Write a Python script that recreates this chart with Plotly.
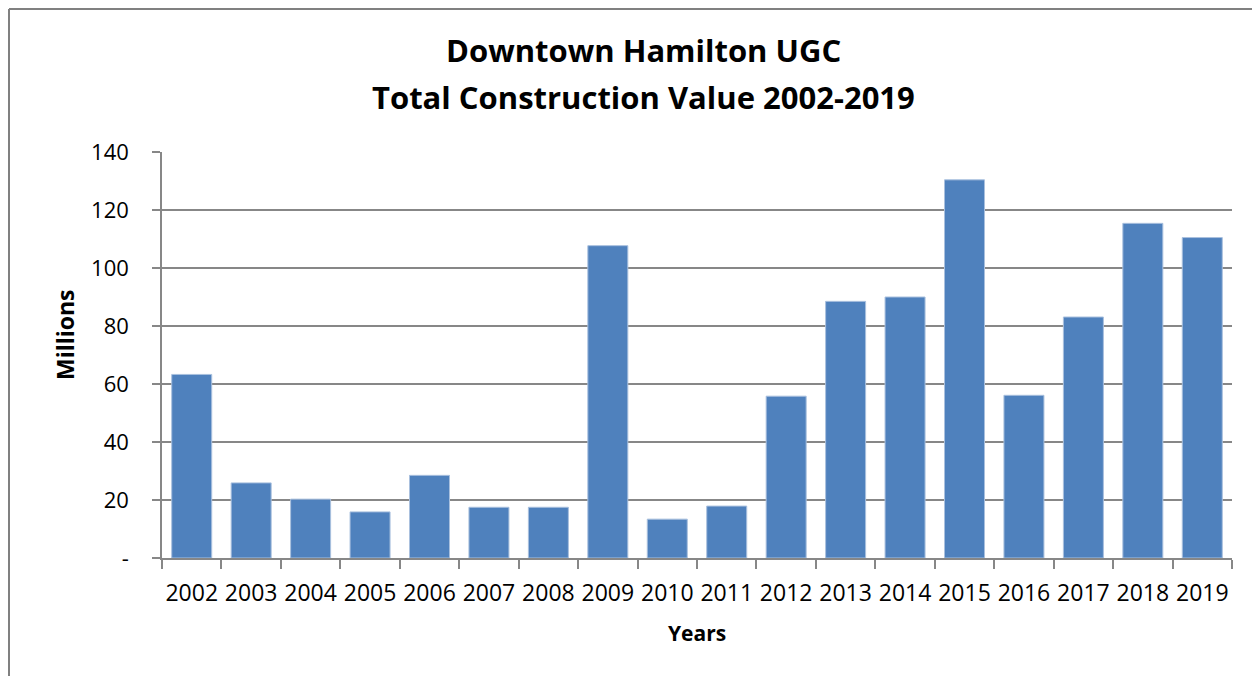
import plotly.graph_objects as go

years = [str(y) for y in range(2002, 2020)]
values = [63.3, 25.9, 20.3, 15.9, 28.5, 17.5, 17.5, 107.7, 13.4, 17.9,
          55.8, 88.5, 90.0, 130.4, 56.1, 83.1, 115.4, 110.5]
y_tickvals = [0, 20, 40, 60, 80, 100, 120, 140]
y_ticktext = ["-", "20", "40", "60", "80", "100", "120", "140"]

title_line1 = "Downtown Hamilton UGC"
title_line2 = "Total Construction Value 2002-2019"
x_title = "Years"
y_title = "Millions"

OFF = 8  # page body margin
W, H = 1260 - OFF, 676 - OFF
# plot area in page pixels: x 162..1232, y 152..558
L, T = 162 - OFF, 152 - OFF
R = W - (1232 - OFF)
B = H - (558 - OFF)
pw, ph = W - L - R, H - T - B

def px_x(p):
    return (p - OFF - L) / pw

def px_y(p):
    return (H - B - (p - OFF)) / ph

FONT = "Open Sans"
GRID = "#878787"

fig = go.Figure(go.Bar(
    x=years, y=values,
    marker=dict(color="#4F81BD", line=dict(color="#A9C0DE", width=1)),
))

fig.update_layout(
    width=W, height=H,
    margin=dict(l=L, r=R, t=T, b=B, autoexpand=False),
    plot_bgcolor="white", paper_bgcolor="white",
    bargap=0.327,
    showlegend=False,
    font=dict(family=FONT, color="black"),
)

fig.update_xaxes(
    type="category",
    showline=True, linecolor=GRID, linewidth=1.5,
    ticks="outside", tickson="boundaries", ticklen=9, tickcolor=GRID, tickwidth=1.5,
    tickfont=dict(family=FONT, size=23, color="black"),
    tickangle=0,
    ticklabelstandoff=14,
    showgrid=False,
)
fig.update_yaxes(
    range=[0, 140],
    tickvals=y_tickvals, ticktext=y_ticktext,
    showline=True, linecolor=GRID, linewidth=1.5,
    ticks="outside", ticklen=8, tickcolor=GRID, tickwidth=1.5,
    showgrid=True, gridcolor=GRID, gridwidth=1.5,
    tickfont=dict(family=FONT, size=22, color="black"),
    ticklabelstandoff=19,
    zeroline=False,
)

fig.add_annotation(text=f"<b>{title_line1}</b>", x=px_x(643), y=px_y(50),
                   xref="paper", yref="paper", showarrow=False,
                   xanchor="center", yanchor="middle",
                   font=dict(family=FONT, size=31, color="black"))
fig.add_annotation(text=f"<b>{title_line2}</b>", x=px_x(643), y=px_y(97),
                   xref="paper", yref="paper", showarrow=False,
                   xanchor="center", yanchor="middle",
                   font=dict(family=FONT, size=31, color="black"))
fig.add_annotation(text=f"<b>{y_title}</b>", x=px_x(65), y=px_y(335),
                   xref="paper", yref="paper", showarrow=False, textangle=-90,
                   xanchor="center", yanchor="middle",
                   font=dict(family=FONT, size=23, color="black"))
fig.add_annotation(text=f"<b>{x_title}</b>", x=px_x(697), y=px_y(633),
                   xref="paper", yref="paper", showarrow=False,
                   xanchor="center", yanchor="middle",
                   font=dict(family=FONT, size=21, color="black"))

# outer frame (left and top border)
fig.add_shape(type="line", xref="paper", yref="paper",
              x0=px_x(9), x1=px_x(9), y0=px_y(9), y1=px_y(H + 20),
              line=dict(color="#808080", width=2))
fig.add_shape(type="line", xref="paper", yref="paper",
              x0=px_x(9), x1=px_x(W + 20), y0=px_y(9), y1=px_y(9),
              line=dict(color="#808080", width=2))

fig.write_html("out.html")
